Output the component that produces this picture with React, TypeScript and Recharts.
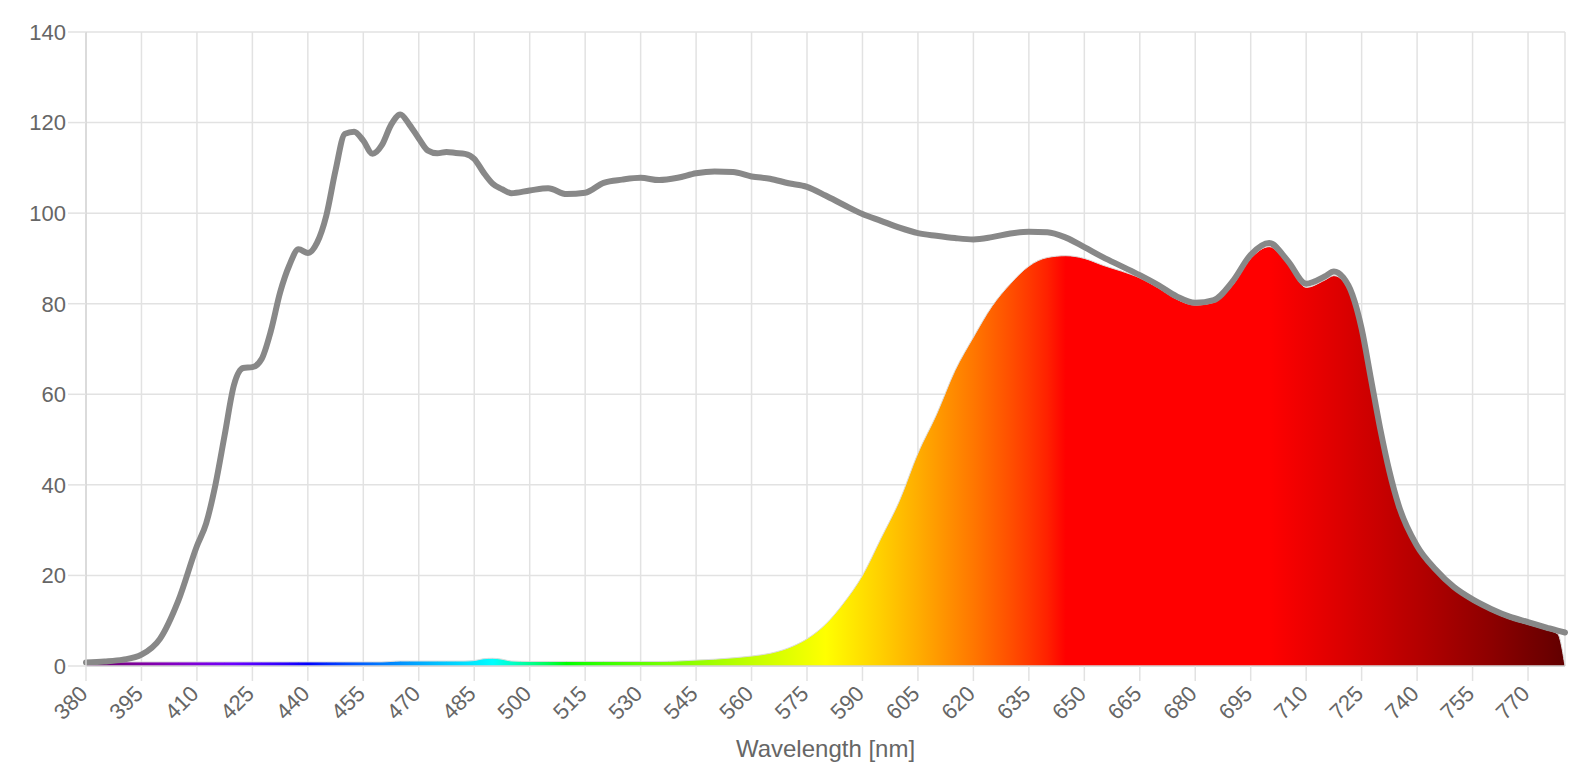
import React from "react";
import { ComposedChart, Area, Line, XAxis, YAxis, CartesianGrid } from "recharts";

// wavelength grid in nm (denser where the curve has sharp features)
const WAVELENGTHS = [
  380, 385, 390, 395, 400, 405, 410, 412.5, 415, 417.5, 420, 422.5, 425, 427.5, 430, 432.5,
  435, 437.5, 440, 442.5, 445, 447.5, 450, 452.5, 455, 457.5, 460, 462.5, 465, 467.5, 470,
  472.5, 475, 477.5, 480, 482.5, 485, 487.5, 490, 492.5, 495, 500, 505, 510, 515, 520, 525,
  530, 535, 540, 545, 550, 555, 560, 565, 570, 575, 580, 585, 590, 595, 600, 605, 610, 615,
  620, 625, 630, 635, 640, 645, 650, 655, 660, 665, 670, 675, 680, 685, 690, 695, 700, 705,
  710, 715, 717.5, 720, 722.5, 725, 727.5, 730, 732.5, 735, 740, 745, 750, 755, 760, 765,
  770, 775, 778, 780,
];

// total spectrum (grey line)
const TOTAL = [
  0.8, 1.0, 1.4, 2.5, 6.0, 14.5, 26.5, 31.5, 40, 51, 62, 65.8, 66, 67.8, 74, 82.5,
  88.5, 92, 91.2, 93.5, 99.5, 109.5, 117.5, 118, 116, 113.1, 115, 119.5, 121.8, 119.5, 116.5,
  113.8, 113.2, 113.5, 113.3, 113.1, 112, 109, 106.5, 105.3, 104.4, 105, 105.5, 104.2, 104.5, 106.7, 107.4,
  107.8, 107.3, 107.8, 108.8, 109.2, 109.1, 108.1, 107.6, 106.6, 105.8, 103.9, 101.8, 99.8, 98.3, 96.8, 95.6, 95.0, 94.5,
  94.2, 94.7, 95.5, 95.9, 95.8, 94.6, 92.5, 90.3, 88.3, 86.3, 84.1, 81.6, 80.2, 80.8, 84.8, 90.8, 93.4, 89.5,
  84.4, 86, 87.1, 85.8, 82, 74.5, 63.5, 52.5, 43, 35.5, 26.5, 21.3, 17.4, 14.7, 12.6, 10.9,
  9.7, 8.5, 7.8, 7.4,
];

// filtered spectrum (colour filled area)
const FILTERED = [
  0.9, 0.9, 0.9, 0.9, 0.9, 0.9, 0.9, 0.9, 0.9, 0.9, 0.9, 0.9, 0.9, 0.9, 0.9, 0.9,
  0.9, 0.9, 0.9, 0.9, 0.9, 0.9, 0.9, 0.9, 0.9, 0.9, 0.9, 1.0, 1.1, 1.1, 1.1,
  1.1, 1.1, 1.1, 1.1, 1.1, 1.2, 1.6, 1.7, 1.5, 1.1, 1.0, 1.0, 1.0, 1.0, 1.0, 1.0,
  1.0, 1.0, 1.1, 1.3, 1.5, 1.8, 2.2, 2.8, 4.0, 6.0, 9.2, 14, 20, 28.2, 36.5, 47, 55.5, 65.2,
  72.6, 79.4, 84.4, 88.3, 90.2, 90.6, 90, 88.5, 87.2, 85.7, 83.5, 81, 79.7, 80.3, 84, 90, 92.6, 88.8,
  83.6, 85.2, 86.2, 85, 81.2, 73.8, 62.8, 51.8, 42.3, 34.8, 25.9, 20.7, 16.9, 14.2, 12.1, 10.4,
  9.2, 8.0, 7.1, 0,
];

const X_TICKS = [
  380, 395, 410, 425, 440, 455, 470, 485, 500, 515, 530, 545, 560, 575, 590, 605, 620, 635,
  650, 665, 680, 695, 710, 725, 740, 755, 770,
];
const Y_TICKS = [0, 20, 40, 60, 80, 100, 120, 140];

const data = WAVELENGTHS.map((nm, i) => ({ nm, total: TOTAL[i], filtered: FILTERED[i] }));

const FONT = '"Liberation Sans", Arial, Helvetica, sans-serif';
const TEXT = "#666666";
const GRID = "#e2e2e2";

// approximate visible colour of a wavelength (for the fill gradient)
function wavelengthColor(w: number): string {
  let r = 0, g = 0, b = 0;
  if (w < 440) { r = -(w - 440) / 60; b = 1; }
  else if (w < 490) { g = (w - 440) / 50; b = 1; }
  else if (w < 510) { g = 1; b = -(w - 510) / 20; }
  else if (w < 580) { r = (w - 510) / 70; g = 1; }
  else if (w < 645) { r = 1; g = -(w - 645) / 65; }
  else { r = 1; }
  let f = 1;
  if (w < 420) f = 0.3 + (0.7 * (w - 380)) / 40;
  else if (w > 700) f = 0.3 + (0.7 * (780 - w)) / 80;
  const c = (v: number) => Math.round(255 * Math.pow(v * f, 0.8));
  return `rgb(${c(r)},${c(g)},${c(b)})`;
}

const STOPS: number[] = [];
for (let w = 380; w <= 780; w += 5) STOPS.push(w);

function XTick(props: any) {
  const { x, y, payload } = props;
  return (
    <text
      transform={`translate(${x + 3},${y + 12}) rotate(-45)`}
      textAnchor="end"
      fill={TEXT}
      fontSize={22}
      fontFamily={FONT}
    >
      {payload.value}
    </text>
  );
}

export default function App() {
  return (
    <div style={{ position: "absolute", left: 0, top: 0, width: 1594, height: 784, background: "#fff" }}>
      <ComposedChart width={1594} height={784} data={data} margin={{ top: 32, right: 29, bottom: 0, left: 0 }}>
        <defs>
          <linearGradient id="spectrum" x1="0" y1="0" x2="1" y2="0">
            {STOPS.map((w) => (
              <stop key={w} offset={(w - 380) / 400} stopColor={wavelengthColor(w)} />
            ))}
          </linearGradient>
        </defs>
        <CartesianGrid stroke={GRID} strokeWidth={1.5} />
        <XAxis
          dataKey="nm"
          type="number"
          domain={[380, 780]}
          ticks={X_TICKS}
          interval={0}
          height={118}
          tickSize={15}
          tick={<XTick />}
          tickLine={{ stroke: GRID, strokeWidth: 1.5 }}
          axisLine={{ stroke: "#d6d6d6", strokeWidth: 1.5 }}
          label={{ value: "Wavelength [nm]", position: "insideBottom", offset: 27, fill: TEXT, fontSize: 24, fontFamily: FONT }}
        />
        <YAxis
          type="number"
          domain={[0, 140]}
          ticks={Y_TICKS}
          interval={0}
          width={86}
          tickSize={18}
          tickMargin={2}
          tick={{ fill: TEXT, fontSize: 22, fontFamily: FONT }}
          tickLine={{ stroke: GRID, strokeWidth: 1.5 }}
          axisLine={{ stroke: "#d6d6d6", strokeWidth: 1.5 }}
        />
        <Area
          type="monotone"
          dataKey="filtered"
          stroke="#dcdcdc"
          strokeWidth={1}
          fill="url(#spectrum)"
          fillOpacity={1}
          dot={false}
          activeDot={false}
          isAnimationActive={false}
        />
        <Line
          type="monotone"
          dataKey="total"
          stroke="#888888"
          strokeWidth={6}
          strokeLinecap="round"
          strokeLinejoin="round"
          dot={false}
          activeDot={false}
          isAnimationActive={false}
        />
      </ComposedChart>
    </div>
  );
}
